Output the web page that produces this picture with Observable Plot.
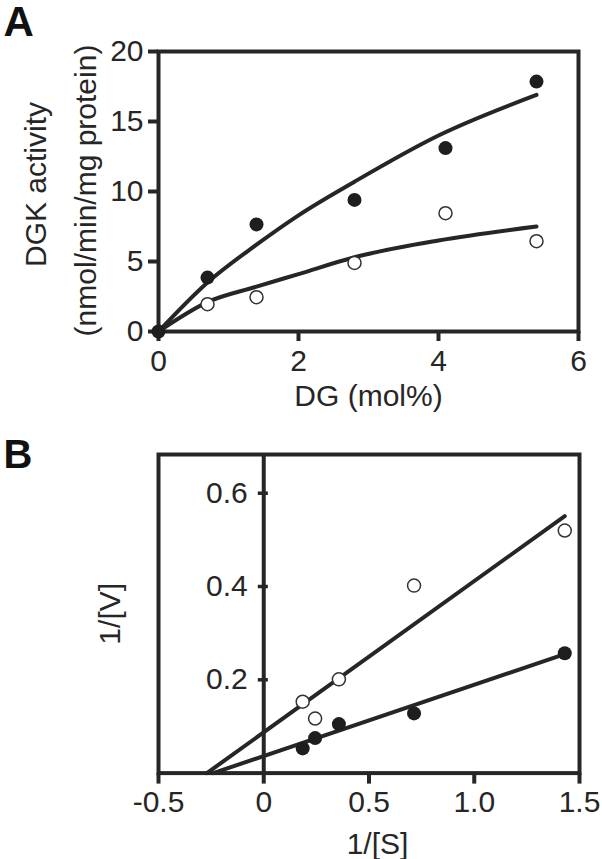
<!DOCTYPE html>
<html><head><meta charset="utf-8">
<script src="https://cdn.jsdelivr.net/npm/d3@7"></script>
<script src="https://cdn.jsdelivr.net/npm/@observablehq/plot@0.6"></script>
<style>html,body{margin:0;padding:0;background:#fff;} svg{display:block}</style>
</head><body><div id="chart"></div>
<script>
// ---------- Panel A: DGK activity vs DG (mol%) ----------
const dgFilledX = [0, 0.7, 1.4, 2.8, 4.1, 5.4];
const activityFilled = [0, 3.85, 7.65, 9.4, 13.1, 17.85];
const dgOpenX = [0.7, 1.4, 2.8, 4.1, 5.4];
const activityOpen = [1.95, 2.45, 4.9, 8.45, 6.45];
// fitted curves
const fitX = [0, 0.7, 1.4, 2, 2.8, 4, 5.4];
const fitFilled = [0, 3.5, 6.2, 8.3, 10.7, 14.0, 16.9];
const fitOpen = [0, 2.1, 3.2, 4.1, 5.3, 6.5, 7.5];
const xTicksA = [0, 2, 4, 6];
const yTicksA = [0, 5, 10, 15, 20];

// ---------- Panel B: double reciprocal ----------
const invS = [0.185, 0.244, 0.357, 0.714, 1.43];
const invVFilled = [0.053, 0.075, 0.105, 0.128, 0.257];
const invVOpen = [0.153, 0.117, 0.201, 0.402, 0.520];
const lineFilledX = [-0.24, 1.43];
const lineFilledY = [0, 0.255];
const lineOpenX = [-0.27, 1.43];
const lineOpenY = [0, 0.551];
const xTicksB = [-0.5, 0, 0.5, 1.0, 1.5];
const xTickLabelsB = ["-0.5", "0", "0.5", "1.0", "1.5"];
const yTicksB = [0.2, 0.4, 0.6];
const yTickLabelsB = ["0.2", "0.4", "0.6"];

const font = "'Liberation Sans', Arial, Helvetica, sans-serif";
const ink = "#262626";
const zip = (xs, ys) => xs.map((x, i) => ({x, y: ys[i]}));
const label = {textAnchor: "middle", lineAnchor: "middle", fontSize: 30, fill: ink};

const A = Plot.plot({
  width: 602, height: 430,
  marginTop: 51, marginBottom: 99, marginLeft: 158, marginRight: 24,
  style: {fontFamily: font, fontSize: "30px", color: ink, background: "white", overflow: "visible"},
  x: {domain: [0, 6]},
  y: {domain: [0, 20]},
  marks: [
    Plot.frame({stroke: ink, strokeWidth: 4}),
    Plot.axisX(xTicksA, {tickSize: 10, tickPadding: 8, strokeWidth: 4, fontSize: 30, label: null, color: ink}),
    Plot.axisY(yTicksA, {tickSize: 10, tickPadding: 5, strokeWidth: 4, fontSize: 30, label: null, color: ink}),
    Plot.line(zip(fitX, fitFilled), {x: "x", y: "y", curve: "monotone-x", stroke: ink, strokeWidth: 4}),
    Plot.line(zip(fitX, fitOpen), {x: "x", y: "y", curve: "monotone-x", stroke: ink, strokeWidth: 4}),
    Plot.dot(zip(dgFilledX, activityFilled), {x: "x", y: "y", r: 7, fill: "#1e1e1e", stroke: "none"}),
    Plot.dot(zip(dgOpenX, activityOpen), {x: "x", y: "y", r: 6.5, fill: "white", stroke: "#333", strokeWidth: 1.5}),
    Plot.text(["DGK activity"], {...label, text: d => d, frameAnchor: "left", rotate: -90, dx: -122, dy: -7}),
    Plot.text(["(nmol/min/mg protein)"], {...label, text: d => d, frameAnchor: "left", rotate: -90, dx: -72, dy: -1}),
    Plot.text(["DG (mol%)"], {...label, text: d => d, frameAnchor: "bottom", dy: 64.4}),
    Plot.text(["A"], {text: d => d, frameAnchor: "top-left", textAnchor: "start", lineAnchor: "top", dx: -155, dy: -45.5, fontSize: 42, fontWeight: "bold", fill: "#111"})
  ]
});

const B = Plot.plot({
  width: 602, height: 429,
  marginTop: 24, marginBottom: 86.4, marginLeft: 158, marginRight: 23,
  style: {fontFamily: font, fontSize: "30px", color: ink, background: "white", overflow: "visible"},
  x: {domain: [-0.5, 1.5]},
  y: {domain: [0, 0.683], axis: null},
  marks: [
    Plot.frame({stroke: ink, strokeWidth: 4}),
    Plot.axisX(xTicksB, {tickFormat: d => xTickLabelsB[xTicksB.indexOf(d)], tickSize: 11, tickPadding: 7, strokeWidth: 4, fontSize: 30, label: null, color: ink}),
    Plot.ruleX([0], {stroke: ink, strokeWidth: 4}),
    Plot.ruleY(yTicksB, {y: d => d, x1: -0.026, x2: 0.022, stroke: ink, strokeWidth: 3.5}),
    Plot.text(yTicksB, {x: 0, y: d => d, text: (d, i) => yTickLabelsB[i], textAnchor: "end", lineAnchor: "middle", dx: -16, fontSize: 30, fill: ink}),
    Plot.line(zip(lineOpenX, lineOpenY), {x: "x", y: "y", stroke: ink, strokeWidth: 4}),
    Plot.line(zip(lineFilledX, lineFilledY), {x: "x", y: "y", stroke: ink, strokeWidth: 4}),
    Plot.dot(zip(invS, invVFilled), {x: "x", y: "y", r: 7, fill: "#1e1e1e", stroke: "none"}),
    Plot.dot(zip(invS, invVOpen), {x: "x", y: "y", r: 6.5, fill: "white", stroke: "#333", strokeWidth: 1.5}),
    Plot.text(["1/[V]"], {...label, text: d => d, frameAnchor: "left", rotate: -90, dx: -48.5, dy: 0}),
    Plot.text(["1/[S]"], {...label, text: d => d, frameAnchor: "bottom", dx: 8.5, dy: 70.8}),
    Plot.text(["B"], {text: d => d, frameAnchor: "top-left", textAnchor: "start", lineAnchor: "top", dx: -155, dy: -15.4, fontSize: 40, fontWeight: "bold", fill: "#111"})
  ]
});

const chart = document.getElementById("chart");
chart.appendChild(A);
chart.appendChild(B);
</script>
</body></html>
